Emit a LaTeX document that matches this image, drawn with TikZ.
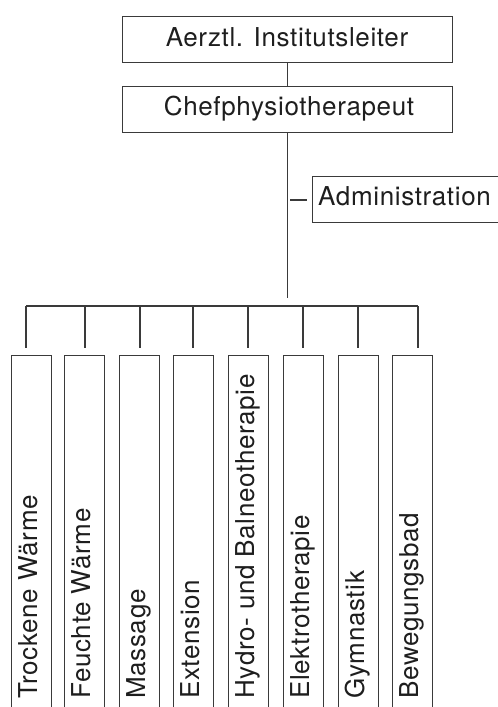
\documentclass[tikz,border=0pt]{standalone}
\usepackage{fontspec}
\setmainfont{TeX Gyre Heros}[LetterSpace=2.5]
\definecolor{linec}{HTML}{3A3A3A}
\definecolor{txtc}{HTML}{1E1E1E}
\begin{document}
\begin{tikzpicture}[x=1pt,y=-1pt]
\tikzset{
  ln/.style={draw=linec, line width=1.3pt},
  hbox/.style={ln, rectangle, inner sep=0pt, anchor=north west, minimum height=46pt},
  vbox/.style={ln, rectangle, inner sep=0pt, anchor=north west, minimum width=40pt, minimum height=370pt},
  lbl/.style={text=txtc, font=\fontsize{26}{31}\selectfont, inner sep=0pt}
}
\useasboundingbox (0,0) rectangle (498,707);
\clip (0,0) rectangle (498,707);
% top boxes
\node[hbox, minimum width=330pt] (head) at (122,16) {};
\node[lbl, anchor=base] (headt) at (287,46) {Aerztl. Institutsleiter};
\node[hbox, minimum width=330pt] (chef) at (122,86) {};
\node[lbl, anchor=base] (cheft) at (289,115) {Chefphysiotherapeut};
\node[hbox, minimum width=230pt] (adm) at (312,176) {};
\node[lbl, anchor=base west] (admt) at (318,205) {Administration};
% connectors
\draw[ln] (head.south) -- (chef.north);
\coordinate (barL) at (26,306);
\coordinate (barR) at (418,306);
\draw[ln, shorten >=8pt] (chef.south) -- (chef.south |- barL);
\coordinate (admj) at (287,200);
\draw[ln, shorten <=3pt, shorten >=5pt] (admj) -- (admj -| adm.west);
\draw[ln] (barL) -- (barR);
% vertical boxes
\foreach \i/\l/\b/\t in {1/11/26/Trockene Wärme, 2/64/85/Feuchte Wärme, 3/119/140/Massage, 4/173/193/Extension, 5/228/248/Hydro- und Balneotherapie, 6/283/303/Elektrotherapie, 7/338/358/Gymnastik, 8/392/418/Bewegungsbad}{
  \node[vbox] (v\i) at (\l,355) {};
  \node[lbl, rotate=90, anchor=base west] (t\i) at (\l+26,699) {\t};
  \coordinate (br\i) at (\b,306);
  \draw[ln, shorten >=7pt] (br\i) -- (br\i |- v\i.north);
}
\end{tikzpicture}
\end{document}
